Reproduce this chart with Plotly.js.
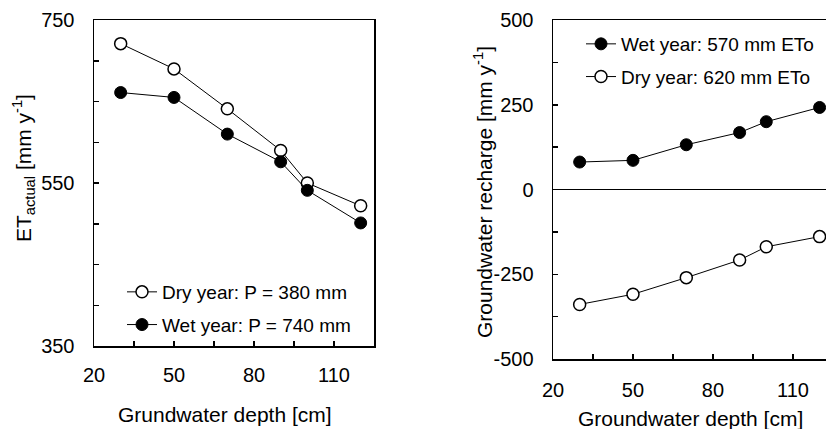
<!DOCTYPE html>
<html>
<head>
<meta charset="utf-8">
<script src="https://cdn.plot.ly/plotly-3.0.1.min.js"></script>
<style>html,body{margin:0;padding:0;background:#fff;}#chart{width:826px;height:429px;}</style>
</head>
<body>
<div id="chart"></div>
<script>
// Data
const depth = [30, 50, 70, 90, 100, 120];
const etDry = [721, 690, 641, 590, 550, 522];
const etWet = [661, 655, 610, 576, 541, 501];
const rechargeWet = [81, 86, 132, 168, 200, 242];
const rechargeDry = [-339, -309, -260, -208, -169, -139];

const xTickVals = [20, 35, 50, 65, 80, 95, 110, 125];
const xTickText = ['20', '', '50', '', '80', '', '110', ''];
const etTickVals = [350, 400, 450, 500, 550, 600, 650, 700, 750];
const etTickText = ['350', '', '', '', '550', '', '', '', '750'];
const rTickVals = [-500, -375, -250, -125, 0, 125, 250, 375, 500];
const rTickText = ['-500', '', '-250', '', '0', '', '250', '', '500'];

const FONT = 'Liberation Sans, Arial, sans-serif';
const W = 826, H = 429;

const lineStyle = {color: '#000', width: 1};
const openMarker = {symbol: 'circle', size: 12, color: '#fff', line: {color: '#000', width: 1.5}};
const filledMarker = {symbol: 'circle', size: 12, color: '#000', line: {color: '#000', width: 1}};

const traces = [
  {x: depth, y: etDry, name: 'Dry year: P = 380 mm', mode: 'lines+markers', line: lineStyle, marker: openMarker,
   xaxis: 'x', yaxis: 'y', legend: 'legend', legendgroup: 'a'},
  {x: depth, y: etWet, name: 'Wet year: P = 740 mm', mode: 'lines+markers', line: lineStyle, marker: filledMarker,
   xaxis: 'x', yaxis: 'y', legend: 'legend', legendgroup: 'b'},
  {x: depth, y: rechargeWet, name: 'Wet year: 570 mm ETo', mode: 'lines+markers', line: lineStyle, marker: filledMarker,
   xaxis: 'x2', yaxis: 'y2', legend: 'legend2', legendgroup: 'c'},
  {x: depth, y: rechargeDry, name: 'Dry year: 620 mm ETo', mode: 'lines+markers', line: lineStyle, marker: openMarker,
   xaxis: 'x2', yaxis: 'y2', legend: 'legend2', legendgroup: 'd'}
];

const axisCommon = {
  showgrid: false, zeroline: false, showline: true, linecolor: '#000', linewidth: 1.5,
  ticks: 'inside', ticklen: 5, tickwidth: 1.5, tickcolor: '#000',
  tickfont: {family: FONT, size: 20, color: '#000'}, fixedrange: true
};

const layout = {
  width: W, height: H,
  margin: {l: 0, r: 0, t: 0, b: 0},
  paper_bgcolor: '#fff', plot_bgcolor: 'rgba(0,0,0,0)',
  showlegend: true,
  font: {family: FONT, color: '#000'},
  xaxis: Object.assign({}, axisCommon, {domain: [94 / W, 374 / W], range: [20, 125], tickmode: 'array',
    tickvals: xTickVals, ticktext: xTickText, mirror: true, anchor: 'y', ticklabelstandoff: 10}),
  yaxis: Object.assign({}, axisCommon, {domain: [1 - 346 / H, 1 - 20 / H], range: [350, 750], tickmode: 'array',
    tickvals: etTickVals, ticktext: etTickText, mirror: true, anchor: 'x', ticklabelstandoff: 14}),
  xaxis2: Object.assign({}, axisCommon, {domain: [553 / W, 1], range: [20, 122.4], tickmode: 'array',
    tickvals: xTickVals, ticktext: xTickText, mirror: true, anchor: 'y2', ticklabelstandoff: 12}),
  yaxis2: Object.assign({}, axisCommon, {domain: [1 - 359 / H, 1 - 20 / H], range: [-500, 500], tickmode: 'array',
    tickvals: rTickVals, ticktext: rTickText, mirror: false, anchor: 'x2', ticklabelstandoff: 14,
    zeroline: true, zerolinecolor: '#000', zerolinewidth: 1.5}),
  legend: {x: 122 / W, y: 1 - 273 / H, xanchor: 'left', yanchor: 'top', bgcolor: 'rgba(0,0,0,0)',
    font: {family: FONT, size: 19, color: '#000'}, tracegroupgap: 5, itemclick: false},
  legend2: {x: 581 / W, y: 1 - 25 / H, xanchor: 'left', yanchor: 'top', bgcolor: 'rgba(0,0,0,0)',
    font: {family: FONT, size: 19, color: '#000'}, tracegroupgap: 5, itemclick: false},
  annotations: [
    {text: 'ET<sub>actual</sub> [mm y<sup>-1</sup>]', x: 23 / W, y: 1 - 168 / H, xref: 'paper', yref: 'paper',
     textangle: -90, showarrow: false, xanchor: 'center', yanchor: 'middle', font: {family: FONT, size: 21, color: '#000'}},
    {text: 'Grundwater depth [cm]', x: 225 / W, y: 1 - 414 / H, xref: 'paper', yref: 'paper',
     showarrow: false, xanchor: 'center', yanchor: 'middle', font: {family: FONT, size: 21, color: '#000'}},
    {text: 'Groundwater recharge [mm y<sup>-1</sup>]', x: 483 / W, y: 1 - 192 / H, xref: 'paper', yref: 'paper',
     textangle: -90, showarrow: false, xanchor: 'center', yanchor: 'middle', font: {family: FONT, size: 21, color: '#000'}},
    {text: 'Groundwater depth [cm]', x: 690 / W, y: 1 - 418 / H, xref: 'paper', yref: 'paper',
     showarrow: false, xanchor: 'center', yanchor: 'middle', font: {family: FONT, size: 21, color: '#000'}}
  ]
};

Plotly.newPlot('chart', traces, layout, {displayModeBar: false, staticPlot: true});
</script>
</body>
</html>
